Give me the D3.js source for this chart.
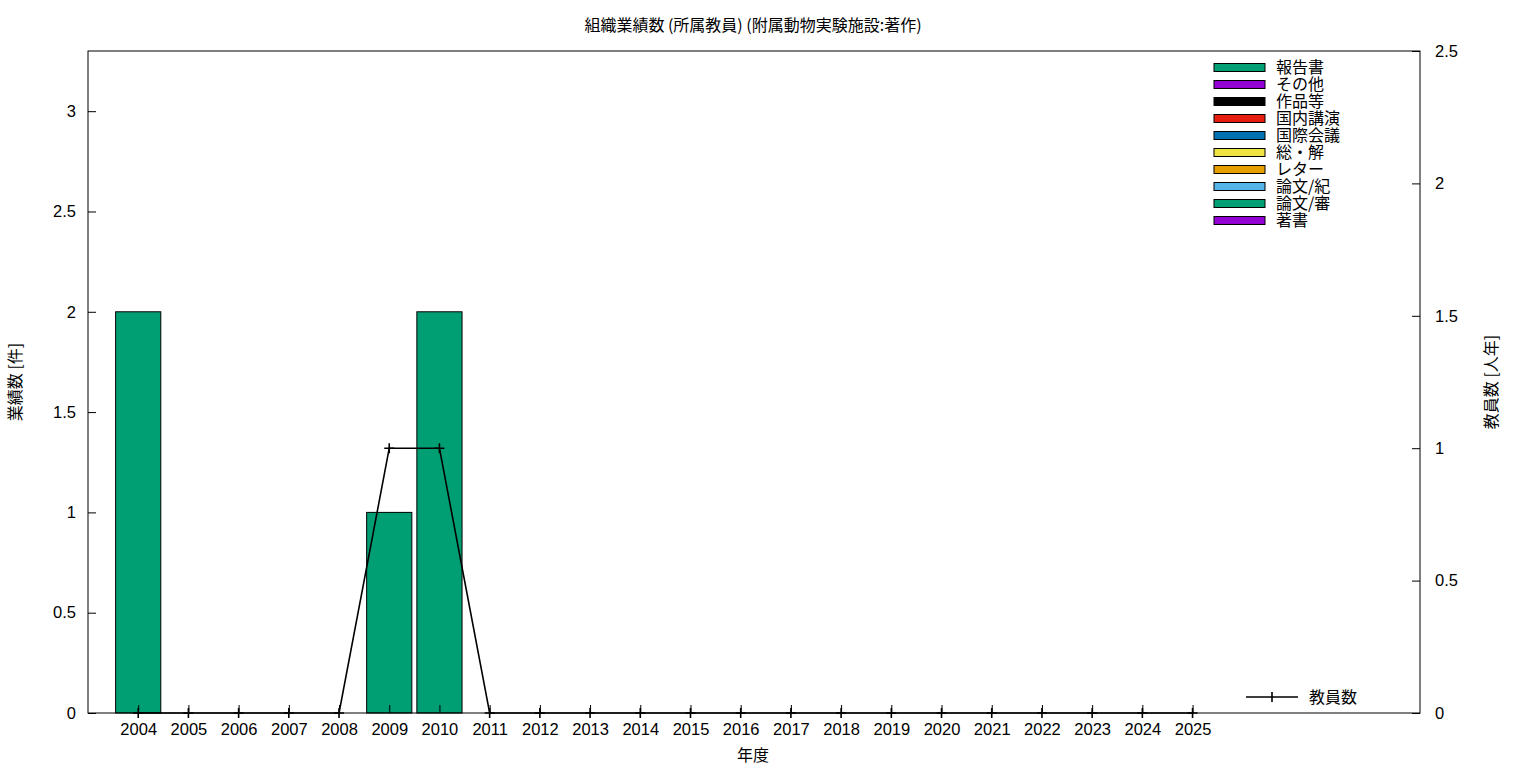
<!DOCTYPE html>
<html><head><meta charset="utf-8">
<script src="https://cdn.jsdelivr.net/npm/d3@7"></script>
<style>
body{margin:0;background:#fff;}
text{font-family:"Noto Sans CJK JP","Noto Sans",sans-serif;fill:#000;}
</style></head>
<body><svg id="c" width="1536" height="768"></svg>
<script>
const years = d3.range(2004, 2026);
const seriesNames = ["著書","論文/審","論文/紀","レター","総・解","国際会議","国内講演","作品等","その他","報告書"];
const seriesColors = ["#9400d3","#009e73","#56b4e9","#e69f00","#f0e442","#0072b2","#e51e10","#000000","#9400d3","#009e73"];
// values per year (2004..2025) per series
const s_chosho   = [0,0,0,0,0,0,0,0,0,0,0,0,0,0,0,0,0,0,0,0,0,0];
const s_ronbunS  = [2,0,0,0,0,1,2,0,0,0,0,0,0,0,0,0,0,0,0,0,0,0];
const s_zero     = [0,0,0,0,0,0,0,0,0,0,0,0,0,0,0,0,0,0,0,0,0,0];
const seriesValues = [s_chosho, s_ronbunS, s_zero, s_zero, s_zero, s_zero, s_zero, s_zero, s_zero, s_zero];
const staff = [0,0,0,0,0,1,1,0,0,0,0,0,0,0,0,0,0,0,0,0,0,0];
const leftTicks = [0,0.5,1,1.5,2,2.5,3];
const rightTicks = [0,0.5,1,1.5,2,2.5];

const svg = d3.select("#c");
const L=88, R=1420, T=51, B=713;
const x = d3.scaleLinear().domain([2003, 2029.53]).range([L, R]);
const y = d3.scaleLinear().domain([0, 3.3]).range([B, T]);
const y2 = d3.scaleLinear().domain([0, 2.5]).range([B, T]);
const bw = (x(2005)-x(2004))*0.9;

// stacked bars
const stack = years.map(()=>0);
seriesValues.forEach((vals,si)=>{
  years.forEach((yr,i)=>{
    const v = vals[i];
    if(v>0){
      svg.append("rect")
        .attr("x", x(yr)-bw/2).attr("width", bw)
        .attr("y", y(stack[i]+v)).attr("height", y(stack[i])-y(stack[i]+v))
        .attr("fill", seriesColors[si]).attr("stroke","#000").attr("stroke-width",1);
      stack[i]+=v;
    }
  });
});

// frame
svg.append("rect").attr("x",L).attr("y",T).attr("width",R-L).attr("height",B-T)
  .attr("fill","none").attr("stroke","#000").attr("stroke-width",1);

// left axis
const gl = svg.append("g").attr("transform",`translate(${L},0)`)
  .call(d3.axisLeft(y).tickValues(leftTicks).tickSize(-8).tickPadding(12).tickFormat(d=>String(d)));
// right axis
const gr = svg.append("g").attr("transform",`translate(${R},0)`)
  .call(d3.axisRight(y2).tickValues(rightTicks).tickSize(-8).tickPadding(15).tickFormat(d=>String(d)));
// bottom axis
const gb = svg.append("g").attr("transform",`translate(0,${B})`)
  .call(d3.axisBottom(x).tickValues(years).tickSize(-8).tickPadding(10).tickFormat(d=>String(d)));
[gl,gr,gb].forEach(g=>{
  g.select(".domain").remove();
  g.selectAll("line").attr("stroke","#000");
  g.selectAll("text").attr("font-size",16.5).attr("fill","#000")
   .style("font-family",'"Liberation Sans",Arial,sans-serif');
});

// staff line
const line = d3.line().x((d,i)=>x(years[i])).y(d=>y2(d));
svg.append("path").datum(staff).attr("d",line).attr("fill","none")
  .attr("stroke","#000").attr("stroke-width",1.6);
staff.forEach((v,i)=>{
  const cx=x(years[i]), cy=y2(v);
  svg.append("path").attr("d",`M${cx-5},${cy}H${cx+5}M${cx},${cy-5}V${cy+5}`)
    .attr("stroke","#000").attr("stroke-width",1.6);
});

// title and labels
svg.append("text").attr("x",753).attr("y",31).attr("text-anchor","middle")
  .attr("font-size",16).text("組織業績数 (所属教員) (附属動物実験施設:著作)");
svg.append("text").attr("x",753).attr("y",761).attr("text-anchor","middle")
  .attr("font-size",16).text("年度");
svg.append("text").attr("transform","translate(21,382) rotate(-90)").attr("text-anchor","middle")
  .attr("font-size",16).text("業績数 [件]");
svg.append("text").attr("transform","translate(1497,382) rotate(-90)").attr("text-anchor","middle")
  .attr("font-size",16).text("教員数 [人年]");

// legend (top to bottom is reverse order)
const legendOrder = d3.range(seriesNames.length).reverse();
legendOrder.forEach((si,k)=>{
  const cy = 67.5 + k*17;
  svg.append("rect").attr("x",1214).attr("y",cy-4).attr("width",51).attr("height",8)
    .attr("fill",seriesColors[si]).attr("stroke","#000").attr("stroke-width",1);
  svg.append("text").attr("x",1276).attr("y",cy+5.5).attr("font-size",16).text(seriesNames[si]);
});
svg.append("path").attr("d","M1246,697H1298M1272,692V702").attr("stroke","#000").attr("stroke-width",1.6);
svg.append("text").attr("x",1309).attr("y",703).attr("font-size",16).text("教員数");
</script></body></html>
